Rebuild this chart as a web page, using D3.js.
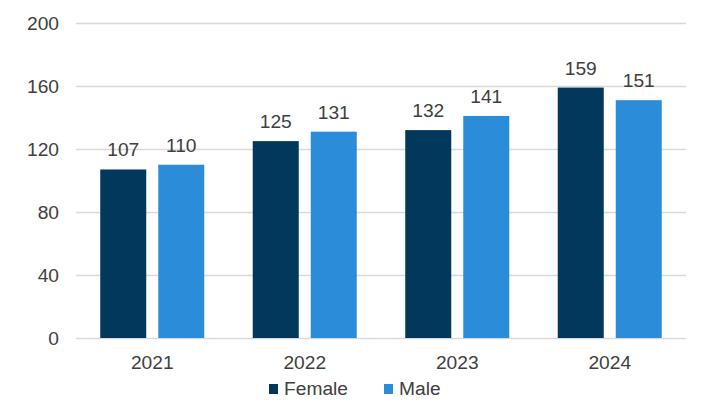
<!DOCTYPE html>
<html>
<head>
<meta charset="utf-8">
<script src="https://cdn.jsdelivr.net/npm/d3@7"></script>
<style>
  body { margin: 0; background: #fff; }
  svg text { font-family: "Liberation Sans", Arial, sans-serif; fill: #404040; }
</style>
</head>
<body>
<div id="chart"></div>
<script>
// data
var years = ["2021", "2022", "2023", "2024"];
var series = ["Female", "Male"];
var female = [107, 125, 132, 159];
var male = [110, 131, 141, 151];
var yTicks = [0, 40, 80, 120, 160, 200];
var colors = ["#02385C", "#2B8DD9"];

var W = 709, H = 414;
var margin = {left: 76, right: 23, top: 23, bottom: 76};
var fs = "19.2px";

var svg = d3.select("#chart").append("svg")
  .attr("width", W).attr("height", H);

var x0 = d3.scaleBand().domain(years)
  .range([margin.left, W - margin.right]).padding(0);
var x1 = d3.scaleBand().domain(series)
  .range([0, x0.bandwidth()])
  .paddingInner(0.207).paddingOuter(0.418);
var y = d3.scaleLinear().domain([0, 200])
  .range([H - margin.bottom, margin.top]);

// gridlines + y labels
var yAxis = svg.append("g")
  .attr("transform", "translate(" + margin.left + ",0)")
  .call(d3.axisLeft(y).tickValues(yTicks)
    .tickSize(-(W - margin.left - margin.right)).tickPadding(17));
yAxis.select(".domain").remove();
yAxis.selectAll(".tick line").attr("stroke", "#d9d9d9").attr("stroke-width", 1.3);
yAxis.selectAll(".tick text").style("font-size", fs).attr("dy", "0.35em");

var rows = years.map(function(yr, i) {
  return {year: yr, vals: [female[i], male[i]]};
});

var g = svg.selectAll(".grp").data(rows).enter().append("g")
  .attr("class", "grp")
  .attr("transform", function(d) { return "translate(" + x0(d.year) + ",0)"; });

g.selectAll("rect").data(function(d) {
    return d.vals.map(function(v, j) { return {s: series[j], v: v, j: j}; });
  })
  .enter().append("rect")
  .attr("x", function(d) { return x1(d.s); })
  .attr("y", function(d) { return y(d.v); })
  .attr("width", x1.bandwidth())
  .attr("height", function(d) { return y(0) - y(d.v); })
  .attr("fill", function(d) { return colors[d.j]; });

g.selectAll(".lbl").data(function(d) {
    return d.vals.map(function(v, j) { return {s: series[j], v: v}; });
  })
  .enter().append("text")
  .attr("class", "lbl")
  .attr("text-anchor", "middle")
  .style("font-size", fs)
  .attr("x", function(d) { return x1(d.s) + x1.bandwidth() / 2; })
  .attr("y", function(d) { return y(d.v) - 13; })
  .text(function(d) { return d.v; });

// x labels
var xAxis = svg.append("g")
  .attr("transform", "translate(0," + y(0) + ")")
  .call(d3.axisBottom(x0).tickSize(0).tickPadding(17));
xAxis.select(".domain").remove();
xAxis.selectAll(".tick text").style("font-size", fs);

// legend
var legX = [269, 384];
var leg = svg.selectAll(".leg").data(series).enter().append("g")
  .attr("class", "leg")
  .attr("transform", function(d, i) { return "translate(" + legX[i] + ",384)"; });
leg.append("rect").attr("width", 9).attr("height", 10)
  .attr("fill", function(d, i) { return colors[i]; });
leg.append("text").attr("x", 15).attr("y", 11)
  .style("font-size", fs).text(function(d) { return d; });
</script>
</body>
</html>
